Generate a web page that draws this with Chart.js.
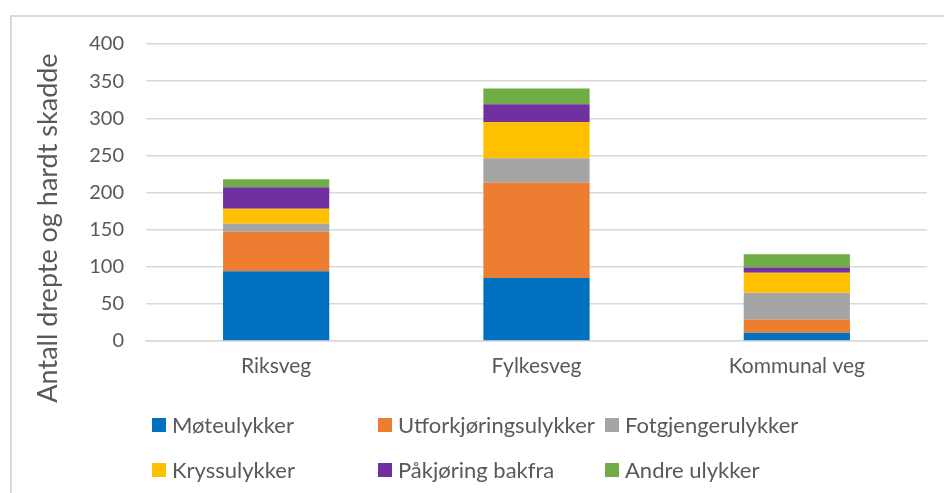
<!DOCTYPE html>
<html>
<head>
<meta charset="utf-8">
<script src="https://cdn.jsdelivr.net/npm/chart.js@4/dist/chart.umd.min.js"></script>
<style>
  html, body { margin: 0; padding: 0; background: #fff; }
  #wrap { position: relative; width: 944px; height: 493px; overflow: hidden; }
  #frame { position: absolute; left: 10px; top: 15px; width: 1000px; height: 600px;
           border-left: 2px solid #d9d9d9; border-top: 2px solid #d9d9d9; }
  canvas { position: absolute; left: 0; top: 0; }
</style>
</head>
<body>
<div id="wrap">
  <div id="frame"></div>
  <canvas id="chart" width="944" height="493"></canvas>
</div>
<script>
// Data
const categories = ['Riksveg', 'Fylkesveg', 'Kommunal veg'];
const seriesNames = ['Møteulykker', 'Utforkjøringsulykker', 'Fotgjengerulykker',
                     'Kryssulykker', 'Påkjøring bakfra', 'Andre ulykker'];
const moteulykker = [94, 85, 11];
const utforkjoring = [53, 128, 18];
const fotgjenger = [11, 33, 36];
const kryss = [20, 49, 27];
const pakjoring = [29, 24, 7];
const andre = [11, 21, 18];
const yTicks = [0, 50, 100, 150, 200, 250, 300, 350, 400];
const yTitle = 'Antall drepte og hardt skadde';

const colors = ['#0070C0', '#ED7D31', '#A5A5A5', '#FFC000', '#7030A0', '#70AD47'];
const values = [moteulykker, utforkjoring, fotgjenger, kryss, pakjoring, andre];
const textColor = '#595959';
const gridColor = '#d9d9d9';
const fontFamily = "Lato, 'Open Sans', sans-serif";

// legend + axis title drawn by hand so they keep the placement of the original
const legendPos = [
  [152, 425], [378, 425], [605, 425],
  [152, 470], [378, 470], [605, 470]
];
const extrasPlugin = {
  id: 'extras',
  afterDraw(chart) {
    const ctx = chart.ctx;
    ctx.save();
    ctx.font = '22px ' + fontFamily;
    ctx.textBaseline = 'middle';
    chart.data.datasets.forEach((ds, i) => {
      const [x, y] = legendPos[i];
      ctx.fillStyle = ds.backgroundColor;
      ctx.fillRect(x, y - 7, 14, 14);
      ctx.fillStyle = textColor;
      ctx.fillText(ds.label, x + 20, y + 1);
    });

    // y-axis title
    ctx.translate(48, 228);
    ctx.rotate(-Math.PI / 2);
    ctx.textAlign = 'center';
    ctx.font = '27px ' + fontFamily;
    ctx.fillText(yTitle, 0, 0);
    ctx.restore();
  }
};

new Chart(document.getElementById('chart'), {
  type: 'bar',
  data: {
    labels: categories,
    datasets: seriesNames.map((name, i) => ({
      label: name,
      data: values[i],
      backgroundColor: colors[i],
      borderWidth: 0,
      categoryPercentage: 1,
      barPercentage: 0.408
    }))
  },
  options: {
    responsive: false,
    animation: false,
    layout: { padding: { top: 44, right: 17, left: 0, bottom: 0 } },
    plugins: {
      legend: { display: false },
      tooltip: { enabled: false }
    },
    scales: {
      x: {
        stacked: true,
        grid: { display: false, drawTicks: false },
        border: { color: gridColor, width: 1.5 },
        ticks: { color: textColor, font: { family: fontFamily, size: 21 }, padding: 13 },
        afterFit: (scale) => { scale.height = 152; }
      },
      y: {
        stacked: true,
        min: 0,
        max: 400,
        afterBuildTicks: (scale) => { scale.ticks = yTicks.map(v => ({ value: v })); },
        grid: { color: gridColor, lineWidth: 1.5, drawTicks: false },
        border: { display: false },
        ticks: { color: textColor, font: { family: fontFamily, size: 20 }, padding: 22 },
        afterFit: (scale) => { scale.width = 146; }
      }
    }
  },
  plugins: [extrasPlugin]
});
</script>
</body>
</html>
